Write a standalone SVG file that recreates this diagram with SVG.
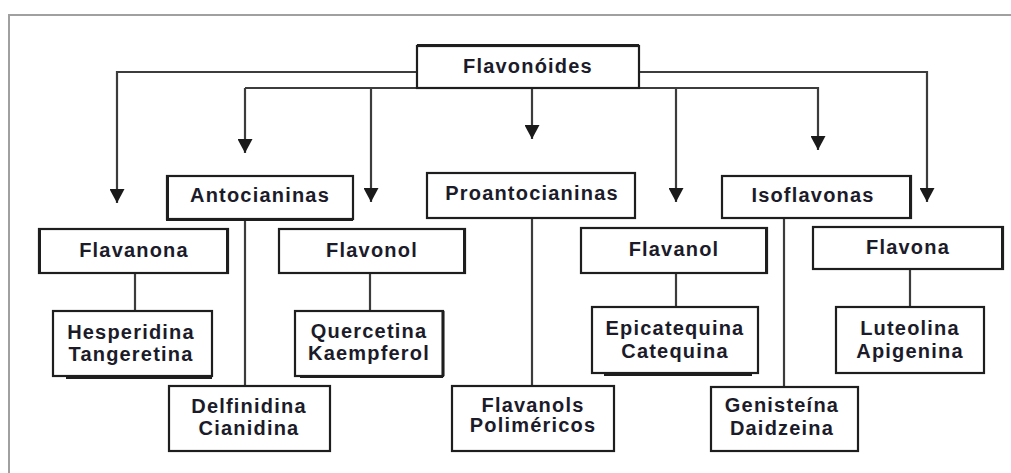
<svg xmlns="http://www.w3.org/2000/svg" width="1011" height="473" viewBox="0 0 1011 473">
  <style>
    .box { fill: #ffffff; stroke: #1e1e1e; stroke-width: 2.2; }
    .shadow { fill: none; stroke: #1e1e1e; stroke-width: 3; }
    .wire { fill: none; stroke: #3c3c3c; stroke-width: 2.2; }
    .frame { fill: none; stroke: #a0a0a0; stroke-width: 2; }
    .lbl { font-family: "Liberation Sans", Arial, sans-serif; font-weight: bold; font-size: 20px; letter-spacing: 1.2px; fill: #1b1b2a; text-anchor: middle; }
  </style>
  <defs>
    <marker id="arrow" markerUnits="userSpaceOnUse" markerWidth="15" markerHeight="15" refX="14" refY="7.5" orient="auto" viewBox="0 0 15 15">
      <path d="M0,0 L14,7.5 L0,15 z" fill="#1a1a1a"/>
    </marker>
  </defs>

  <rect width="1011" height="473" fill="#ffffff"/>

  <!-- outer frame -->
  <path class="frame" d="M9,473 V15 H1011"/>

  <!-- connectors -->
  <g id="connectors">
    <path class="wire" d="M417,72 H117 V203" marker-end="url(#arrow)"/>
    <path class="wire" d="M639,72 H927 V202" marker-end="url(#arrow)"/>
    <path class="wire" d="M245,88 H818 V150" marker-end="url(#arrow)"/>
    <path class="wire" d="M245,88 V153" marker-end="url(#arrow)"/>
    <path class="wire" d="M371,88 V202" marker-end="url(#arrow)"/>
    <path class="wire" d="M532,88 V139" marker-end="url(#arrow)"/>
    <path class="wire" d="M676,88 V202" marker-end="url(#arrow)"/>
    <path class="wire" d="M135,273 V311"/>
    <path class="wire" d="M245,219 V386"/>
    <path class="wire" d="M370,273 V311"/>
    <path class="wire" d="M532,218 V386"/>
    <path class="wire" d="M676,273 V307"/>
    <path class="wire" d="M784,218 V387"/>
    <path class="wire" d="M910,269 V307"/>
  </g>

  <!-- root -->
  <g id="flavonoides">
    <rect class="box" x="417" y="46" width="222" height="42" stroke-width="2.6"/>
    <path class="shadow" d="M417,45.5 H639"/>
    <text class="lbl" x="528" y="73">Flavonóides</text>
  </g>

  <!-- classes -->
  <g id="antocianinas">
    <rect class="box" x="167" y="176" width="186" height="43"/>
    <path class="shadow" d="M167.5,176 V219.5 H353"/>
    <text class="lbl" x="260" y="202">Antocianinas</text>
  </g>
  <g id="proantocianinas">
    <rect class="box" x="427" y="173" width="208" height="45" stroke-width="1.8"/>
    <text class="lbl" x="532" y="200">Proantocianinas</text>
  </g>
  <g id="isoflavonas">
    <rect class="box" x="722" y="176" width="189" height="42"/>
    <path class="shadow" d="M910.5,176 V218"/>
    <text class="lbl" x="813" y="202">Isoflavonas</text>
  </g>

  <g id="flavanona">
    <rect class="box" x="39" y="229" width="189" height="44"/>
    <path class="shadow" d="M39.5,229 V273 M227.5,229 V273"/>
    <text class="lbl" x="134" y="257">Flavanona</text>
  </g>
  <g id="flavonol">
    <rect class="box" x="279" y="229" width="186" height="44"/>
    <path class="shadow" d="M464.5,229 V273"/>
    <text class="lbl" x="372" y="257">Flavonol</text>
  </g>
  <g id="flavanol">
    <rect class="box" x="581" y="228" width="186" height="45"/>
    <path class="shadow" d="M766.5,228 V273"/>
    <text class="lbl" x="674" y="256">Flavanol</text>
  </g>
  <g id="flavona">
    <rect class="box" x="813" y="227" width="190" height="42"/>
    <path class="shadow" d="M1002.5,227 V269" stroke-width="4"/>
    <text class="lbl" x="908" y="254">Flavona</text>
  </g>

  <!-- compounds -->
  <g id="hesperidina">
    <rect class="box" x="53" y="311" width="159" height="65"/>
    <path class="shadow" d="M66,377.5 H212"/>
    <text class="lbl" x="131" y="339">Hesperidina</text>
    <text class="lbl" x="131" y="361">Tangeretina</text>
  </g>
  <g id="quercetina">
    <rect class="box" x="295" y="311" width="148" height="65"/>
    <path class="shadow" d="M443,311 V376 M300,376.5 H443"/>
    <text class="lbl" x="369" y="338">Quercetina</text>
    <text class="lbl" x="369" y="360">Kaempferol</text>
  </g>
  <g id="delfinidina">
    <rect class="box" x="169" y="386" width="161" height="65"/>
    <text class="lbl" x="249" y="413">Delfinidina</text>
    <text class="lbl" x="249" y="435">Cianidina</text>
  </g>
  <g id="flavanols-polimericos">
    <rect class="box" x="452" y="386" width="162" height="65"/>
    <text class="lbl" x="533" y="412">Flavanols</text>
    <text class="lbl" x="533" y="432">Poliméricos</text>
  </g>
  <g id="epicatequina">
    <rect class="box" x="592" y="307" width="166" height="66"/>
    <path class="shadow" d="M604,374.5 H752"/>
    <text class="lbl" x="675" y="335">Epicatequina</text>
    <text class="lbl" x="675" y="358">Catequina</text>
  </g>
  <g id="genisteina">
    <rect class="box" x="711" y="387" width="147" height="64"/>
    <text class="lbl" x="782" y="412">Genisteína</text>
    <text class="lbl" x="782" y="435">Daidzeina</text>
  </g>
  <g id="luteolina">
    <rect class="box" x="836" y="307" width="148" height="66"/>
    <text class="lbl" x="910" y="335">Luteolina</text>
    <text class="lbl" x="910" y="358">Apigenina</text>
  </g>
</svg>
